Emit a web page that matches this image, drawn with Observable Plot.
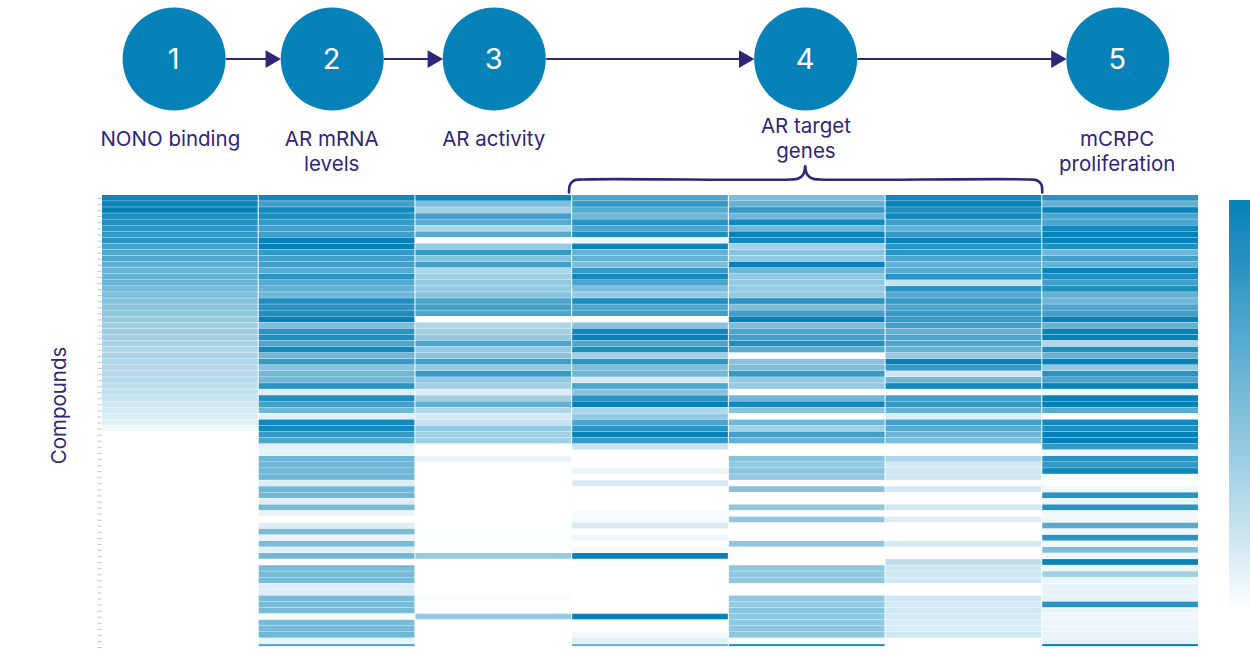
<!DOCTYPE html>
<html><head><meta charset="utf-8">
<script src="https://cdn.jsdelivr.net/npm/d3@7"></script>
<script src="https://cdn.jsdelivr.net/npm/@observablehq/plot@0.6"></script>
<style>html,body{margin:0;padding:0;background:#fff}svg{display:block}</style>
</head><body><div id="chart"></div>
<script>
const nono = [.98,.98,1,.9,.88,.82,.8,.85,.72,.68,.68,.62,.58,.6,.57,.52,.5,.46,.44,.42,.4,.36,.37,.35,.32,.3,.32,.3,.28,.28,.26,.24,.22,.2,.17,.15,.13,.1,.04,0,0,0,0,0,0,0,0,0,0,0,0,0,0,0,0,0,0,0,0,0,0,0,0,0,0,0,0,0,0,0,0,0,0,0,0];
const mrna = [.95,.75,.95,.9,.8,.75,.75,1,1,.8,.75,.75,.65,.85,.65,.6,.55,.9,.85,.9,1,.5,.85,.9,.7,.95,.55,.8,.45,.55,.55,.85,.12,.9,.75,.55,.1,.95,.95,.8,.7,.1,.08,.55,.55,.55,.55,.12,.55,.55,.12,.52,.07,0,.12,.52,.07,.52,.1,.55,0,.52,.52,.52,.12,.12,.52,.52,.52,.02,.52,.52,.55,.08,.7];
const activity = [.98,.5,.35,.75,.65,.3,.65,0,.4,.8,.45,.75,.3,.35,.4,.4,.45,.7,.75,.7,0,.3,.35,.4,.7,.4,.45,.75,.4,.8,.4,.35,.12,.35,.6,.3,.15,.2,.4,.35,.35,0,0,.08,0,0,0,0,0,0,0,0,0,0,0,.01,0,0,0,.4,0,0,0,0,0,0,.02,0,0,.4,0,0,0,0,0];
const targetA = [.7,.8,.65,.55,.85,.7,.9,.06,.98,.6,.6,.5,.8,.95,.7,.5,.4,.9,.7,.75,0,.45,.95,1,.7,.9,.35,.85,.5,.55,.15,.7,.45,.85,1,.3,.4,.7,.85,1,.8,.2,0,0,0,.07,0,.15,0,0,0,0,.03,.03,.15,0,.06,0,.04,1,.01,0,0,0,0,0,0,0,0,1,0,0,.05,.1,.6];
const targetB = [.5,.6,.8,.55,.95,.55,.98,.95,.35,.45,.4,1,.55,.4,.4,.4,.4,.85,.5,.75,1,.5,.7,.75,.9,.65,0,.45,.5,.8,.4,.4,0,.55,.95,.45,0,.55,.35,.75,.6,0,0,.45,.4,.45,.4,0,.45,0,0,.42,0,.42,0,0,0,.42,0,0,0,.42,.42,.42,0,0,.42,.4,.45,.42,.42,.42,.42,0,.9];
const targetC = [.95,1,.9,.95,.75,.6,.8,1,.85,.85,.7,.6,.65,.85,.2,.85,.65,.8,.7,.8,.8,.75,.6,.7,.7,.6,.4,1,.8,.18,.55,.95,0,.75,.8,.6,.12,.75,.65,.55,.5,0,0,.3,.15,.17,.17,0,.15,0,0,.17,0,.12,0,0,0,.15,0,0,.25,.17,.17,.17,0,0,.18,.15,.17,.15,.13,.14,.17,0,0];
const prolif = [.85,.6,.98,.7,.7,.95,1,1,.9,.55,.75,.6,1,.9,.75,.9,.6,.55,.7,.75,1,.6,1,1,.3,.9,.6,1,.4,.85,.7,1,.05,1,1,.65,0,.95,.9,1,1,.8,.05,.85,.8,.95,.03,0,.05,.85,.07,.85,.05,.05,.65,.05,.85,.05,.5,.05,1,.05,.35,.07,.08,.08,.08,.85,.06,.05,.07,.06,.07,.08,1];
const assays = [nono, mrna, activity, targetA, targetB, targetC, prolif];

const stepNumbers = ["1","2","3","4","5"];
const stepLabels = ["NONO binding","AR mRNA\nlevels","AR activity","AR target\ngenes","mCRPC\nproliferation"];
const stepColumns = [.46,1.469,2.503,4.49,6.482];
const labelColumns = [.436,1.466,2.5,4.492,6.478];
const labelRows = [-11.05,-11.05,-11.05,-13.2,-11.05];
const stepRow = -22.49;
const bracketLeftX = [2.98,2.987,3.012,3.064,4.392,4.443,4.475,4.487];
const bracketRightX = [6,5.994,5.968,5.917,4.583,4.532,4.5,4.487];
const bracketY = [-.49,-1.81,-2.47,-2.64,-2.64,-2.8,-3.46,-4.78];
const rampValues = d3.range(0,1.0001,.01);

const HEAT = "#0782b9", INK = "#2f2678", FONT = "Inter, 'Noto Sans', sans-serif";
const cells = assays.flatMap((vals,c)=>vals.map((v,r)=>({c,r,v})));
const nodes = stepNumbers.map((n,i)=>({n,label:stepLabels[i],x:stepColumns[i],lx:labelColumns[i],ly:labelRows[i]}));
const links = nodes.slice(1).map((d,i)=>({from:nodes[i].x,to:d.x}));
const bracket = [bracketLeftX,bracketRightX].flatMap((xs,s)=>xs.map((x,i)=>({x,y:bracketY[i],s})));
const rowTicks = d3.range(0,75).map(k=>k+.5);

const chart = Plot.plot({
  width:1250,height:654,
  marginLeft:101.5,marginRight:51.5,marginTop:195,marginBottom:7.5,
  style:{background:"#fff",fontFamily:FONT},
  x:{domain:[0,7],axis:null},
  y:{domain:[0,74.4],reverse:true,axis:null},
  color:{type:"pow",exponent:.92,domain:[0,1],range:["#ffffff",HEAT]},
  marks:[
    Plot.rect(cells,{x1:"c",x2:d=>d.c+1,y1:"r",y2:d=>Math.min(d.r+1,74.4),fill:"v",insetRight:1,dx:.5,insetBottom:.35}),
    Plot.axisY(rowTicks,{anchor:"left",tickSize:4,tickFormat:()=>"",stroke:"#b5b5b5",strokeWidth:.8,label:null}),
    Plot.rect(rampValues,{x1:()=>7.195,x2:()=>7.34,y1:v=>.82+(1-v)*66.9,y2:v=>.82+(1-v)*66.9+.8,fill:v=>v,shapeRendering:"crispEdges"}),
    Plot.arrow(links,{x1:"from",x2:"to",y1:()=>stepRow,y2:()=>stepRow,stroke:INK,strokeWidth:2,headLength:0,insetStart:52.5,insetEnd:60}),
    Plot.dot(links,{x:"to",y:()=>stepRow,dx:-61.5,symbol:"triangle",r:6.6,rotate:90,fill:INK,stroke:"none"}),
    Plot.dot(nodes,{x:"x",y:()=>stepRow,r:51.5,fill:HEAT,stroke:"none"}),
    Plot.text(nodes,{x:"x",y:()=>stepRow,text:"n",fill:"#fff",fontSize:29,fontFamily:FONT,textAnchor:"middle",dy:1,dx:-.5}),
    Plot.text(nodes,{x:"lx",y:"ly",text:"label",fill:INK,fontSize:20.5,fontFamily:FONT,lineHeight:1.22,lineAnchor:"top",textAnchor:"middle"}),
    Plot.line(bracket,{x:"x",y:"y",z:"s",stroke:INK,strokeWidth:2.6,curve:"catmull-rom"}),
    Plot.text(["Compounds"],{x:()=>-.271,y:()=>34.6,rotate:-90,fill:INK,fontSize:20.5,fontFamily:FONT,textAnchor:"middle"})
  ]
});
document.getElementById("chart").append(chart);
</script></body></html>
